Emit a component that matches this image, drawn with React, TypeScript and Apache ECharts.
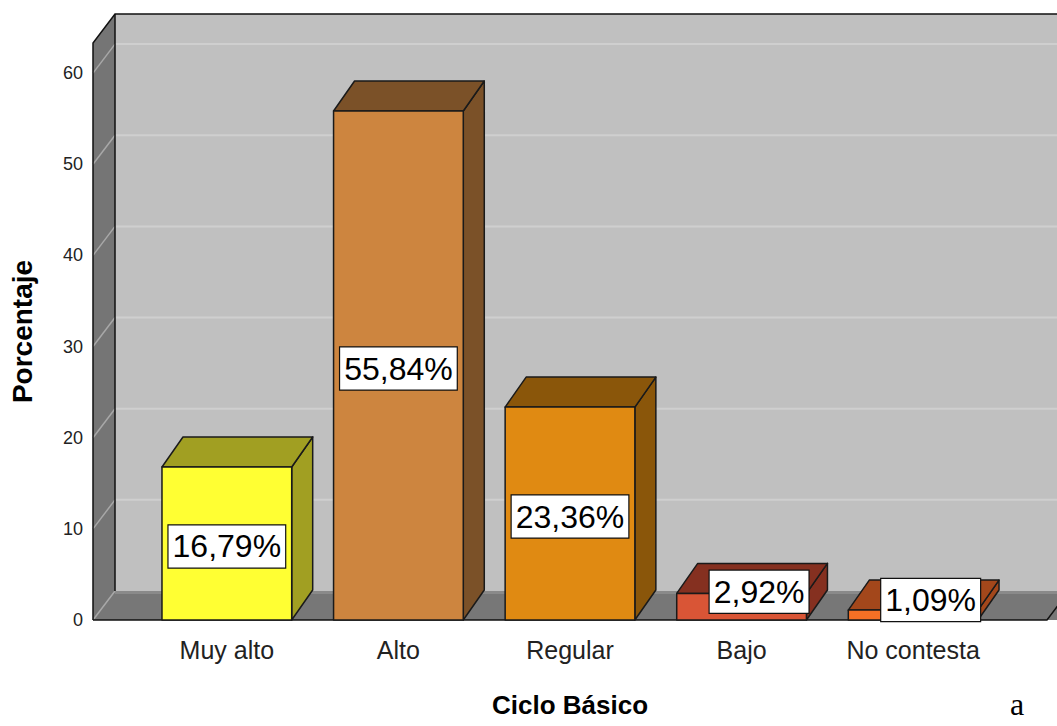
import React, { useEffect, useRef } from 'react';
import * as echarts from 'echarts';

// ---- data ----
const categories = ['Muy alto', 'Alto', 'Regular', 'Bajo', 'No contesta'];
const percentages = [16.79, 55.84, 23.36, 2.92, 1.09];
const valueLabels = ['16,79%', '55,84%', '23,36%', '2,92%', '1,09%'];
const yTicks = [0, 10, 20, 30, 40, 50, 60];
const frontColors = ['#ffff33', '#cd853f', '#e08a12', '#d95536', '#f47025'];
const sideColors = ['#a19f22', '#7b5128', '#8a560a', '#853020', '#a3471b'];

// ---- layout constants ----
const X_MIN = -0.78;
const X_MAX = 4.78;
const Y_MAX = 63.3;
const WALL_DX = 22;
const WALL_DY = -29;
const BAR_DX = 21;
const BAR_DY = -30;
const BAR_HALF = 0.378;
const FONT = '"Liberation Sans", Arial, sans-serif';

export default function App() {
  const ref = useRef<HTMLDivElement>(null);

  useEffect(() => {
    if (!ref.current) return;
    const chart = echarts.init(ref.current, null, { renderer: 'svg' });

    const wallsRender = (_params: any, api: any) => {
      const fl = api.coord([X_MIN, 0]);
      const ft = api.coord([X_MIN, Y_MAX]);
      const fr = api.coord([X_MAX, 0]);
      const bx0 = fl[0] + WALL_DX;
      const bx1 = fr[0] + WALL_DX;
      const byTop = ft[1] + WALL_DY;
      const byBot = fl[1] + WALL_DY;
      const children: any[] = [];
      // back wall
      children.push({
        type: 'polygon',
        shape: { points: [[bx0, byTop], [bx1 + 40, byTop], [bx1 + 40, byBot], [bx0, byBot]] },
        style: { fill: '#c0c0c0' },
      });
      // left wall
      children.push({
        type: 'polygon',
        shape: { points: [[ft[0], ft[1]], [bx0, byTop], [bx0, byBot], [fl[0], fl[1]]] },
        style: { fill: '#757575' },
      });
      // floor
      children.push({
        type: 'polygon',
        shape: { points: [[fl[0], fl[1]], [bx0, byBot], [bx1 + 40, byBot], [fr[0] + 40, fl[1]]] },
        style: { fill: '#777777' },
      });
      // floor back light strip
      children.push({
        type: 'line',
        shape: { x1: bx0, y1: byBot + 1.5, x2: bx1 + 40, y2: byBot + 1.5 },
        style: { stroke: '#8a8a8a', lineWidth: 3 },
      });
      // gridlines
      yTicks.forEach((t) => {
        const p = api.coord([X_MIN, t]);
        if (t > 0) {
          children.push({
            type: 'line',
            shape: { x1: bx0, y1: p[1] + WALL_DY, x2: bx1 + 40, y2: p[1] + WALL_DY },
            style: { stroke: '#cfcfcf', lineWidth: 2 },
          });
        }
        children.push({
          type: 'line',
          shape: { x1: p[0], y1: p[1], x2: bx0, y2: p[1] + WALL_DY },
          style: { stroke: '#a8a8a8', lineWidth: 1.5 },
        });
      });
      // outlines
      children.push({
        type: 'polyline',
        shape: { points: [[fl[0], fl[1]], [ft[0], ft[1]], [bx0, byTop], [bx1 + 40, byTop]] },
        style: { stroke: '#111', lineWidth: 1.5, fill: null },
      });
      children.push({
        type: 'line',
        shape: { x1: bx0, y1: byTop, x2: bx0, y2: byBot },
        style: { stroke: '#111', lineWidth: 1.5 },
      });
      children.push({
        type: 'polyline',
        shape: { points: [[fl[0], fl[1]], [fr[0], fr[1]], [bx1, byBot]] },
        style: { stroke: '#111', lineWidth: 1.5, fill: null },
      });
      return { type: 'group', children };
    };

    const barsRender = (params: any, api: any) => {
      const i = api.value(0);
      const v = api.value(1);
      const idx = params.dataIndex;
      const p0 = api.coord([i - BAR_HALF, 0]);
      const p1 = api.coord([i + BAR_HALF, v]);
      const x0 = p0[0];
      const yb = p0[1];
      const x1 = p1[0];
      const yt = p1[1];
      const edge = { stroke: '#1a1a1a', lineWidth: 1.5, lineJoin: 'round' };
      const children: any[] = [];
      children.push({
        type: 'polygon',
        shape: { points: [[x1, yt], [x1 + BAR_DX, yt + BAR_DY], [x1 + BAR_DX, yb + BAR_DY], [x1, yb]] },
        style: { fill: sideColors[idx], ...edge },
      });
      children.push({
        type: 'polygon',
        shape: { points: [[x0, yt], [x1, yt], [x1 + BAR_DX, yt + BAR_DY], [x0 + BAR_DX, yt + BAR_DY]] },
        style: { fill: sideColors[idx], ...edge },
      });
      children.push({
        type: 'polygon',
        shape: { points: [[x0, yt], [x1, yt], [x1, yb], [x0, yb]] },
        style: { fill: frontColors[idx], ...edge },
      });
      const small = yb - yt < 50;
      const lx = small ? x1 + 2 : (x0 + x1) / 2;
      const ly = small ? (yt + yb) / 2 + BAR_DY / 2 : (yt + yb) / 2 + 3;
      children.push({
        type: 'text',
        z2: 100,
        x: lx,
        y: ly,
        style: {
          text: valueLabels[idx],
          fill: '#000',
          fontSize: 32,
          fontFamily: FONT,
          align: small ? 'right' : 'center',
          verticalAlign: 'middle',
          backgroundColor: '#fff',
          borderColor: '#111',
          borderWidth: 1.2,
          padding: [6, 4, 4, 4],
        },
      });
      return { type: 'group', children };
    };

    chart.setOption({
      animation: false,
      backgroundColor: '#ffffff',
      grid: { left: 90, right: 10, top: 43, bottom: 106, containLabel: false },
      xAxis: {
        type: 'value',
        min: X_MIN,
        max: X_MAX,
        axisLine: { show: false },
        axisTick: { show: false },
        splitLine: { show: false },
        axisLabel: {
          customValues: [0, 1, 2, 3, 4],
          formatter: (val: number) => categories[Math.round(val)] ?? '',
          fontSize: 25,
          fontFamily: FONT,
          color: '#222',
          margin: 17,
        },
        name: 'Ciclo Básico',
        nameLocation: 'middle',
        nameGap: 72,
        nameTextStyle: { fontSize: 26, fontWeight: 'bold', fontFamily: FONT, color: '#000' },
      },
      yAxis: {
        type: 'value',
        min: 0,
        max: Y_MAX,
        axisLine: { show: false },
        axisTick: { show: false },
        splitLine: { show: false },
        axisLabel: {
          customValues: yTicks,
          formatter: (val: number) => String(val),
          fontSize: 18,
          fontFamily: FONT,
          color: '#222',
          margin: 10,
          padding: [6, 0, 0, 0],
        },
        name: 'Porcentaje',
        nameLocation: 'middle',
        nameRotate: 90,
        nameGap: 57,
        nameTextStyle: { fontSize: 28, fontWeight: 'bold', fontFamily: FONT, color: '#000' },
      },
      series: [
        {
          type: 'custom',
          name: 'walls',
          z: 1,
          silent: true,
          renderItem: wallsRender,
          data: [[0, 0]],
        },
        {
          type: 'custom',
          name: 'bars',
          z: 2,
          renderItem: barsRender,
          data: percentages.map((v, i) => [i, v]),
        },
      ],
      graphic: [
        {
          type: 'text',
          left: 1010,
          top: 688,
          style: { text: 'a', fontSize: 32, fontFamily: '"Liberation Serif", "Times New Roman", serif', fill: '#000' },
        },
      ],
    });

    return () => chart.dispose();
  }, []);

  return (
    <div
      ref={ref}
      style={{ position: 'absolute', left: 0, top: 0, width: 1057, height: 726, background: '#fff' }}
    />
  );
}
